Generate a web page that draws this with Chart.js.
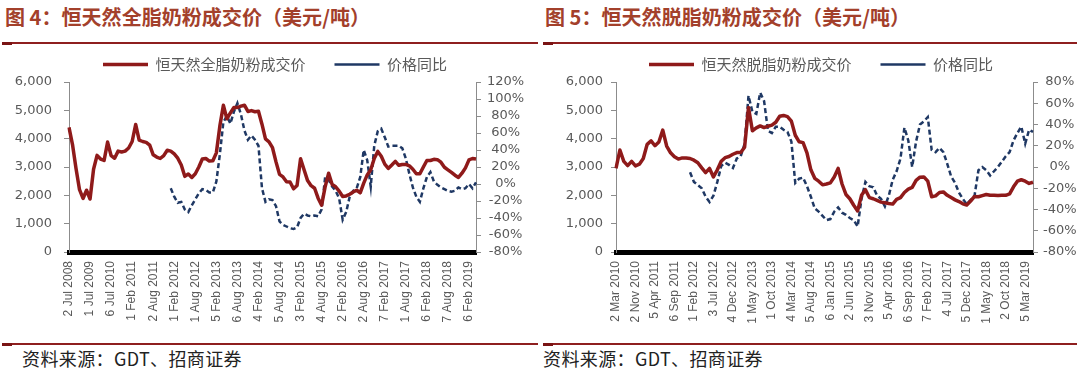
<!DOCTYPE html>
<html>
<head>
<meta charset="utf-8">
<script src="https://cdn.jsdelivr.net/npm/chart.js@4.4.1/dist/chart.umd.min.js"></script>
<style>
  html, body { margin: 0; padding: 0; background: #fff; }
  body { width: 1080px; height: 369px; position: relative; overflow: hidden; }
  .title { position: absolute; top: 4px; font-family: "Noto Sans CJK SC", sans-serif; font-weight: bold; font-size: 19px; color: #a3402b; white-space: nowrap; line-height: 26px; }
  .rule { position: absolute; height: 2px; background: #8e1f1f; }
  .rule-start { position: absolute; height: 3px; width: 10px; background: #7a1414; }
  .source { position: absolute; top: 347px; font-family: "Noto Sans CJK SC", sans-serif; font-size: 16px; color: #222; white-space: nowrap; line-height: 22px; }
  .wrap { position: absolute; top: 28px; width: 540px; height: 310px; }
</style>
</head>
<body>
<div class="title" id="t1" style="left:5px;">图 4：恒天然全脂奶粉成交价（美元/吨）</div>
<div class="title" id="t2" style="left:545px;">图 5：恒天然脱脂奶粉成交价（美元/吨）</div>
<div class="rule" style="left:2px; width:536px; top:42px;"></div>
<div class="rule-start" style="left:2px; top:42px;"></div>
<div class="rule" style="left:543px; width:534px; top:42px;"></div>
<div class="rule-start" style="left:543px; top:42px;"></div>
<div class="rule" style="left:2px; width:536px; top:343px;"></div>
<div class="rule-start" style="left:2px; top:343px;"></div>
<div class="rule" style="left:543px; width:534px; top:343px;"></div>
<div class="rule-start" style="left:543px; top:343px;"></div>
<div class="source" id="s1" style="left:22px;">资料来源：GDT、招商证券</div>
<div class="source" id="s2" style="left:543px;">资料来源：GDT、招商证券</div>
<div class="wrap" style="left:0px;"><canvas id="c1" width="540" height="310"></canvas></div>
<div class="wrap" style="left:540px;"><canvas id="c2" width="540" height="310"></canvas></div>
<script>
// ---- Figure 4: whole milk powder ----
const wholeTickLabels = ['2 Jul 2008','1 Jul 2009','6 Jul 2010','1 Feb 2011','2 Aug 2011','1 Feb 2012','1 Aug 2012','5 Feb 2013','6 Aug 2013','4 Feb 2014','5 Aug 2014','3 Feb 2015','4 Aug 2015','2 Feb 2016','2 Aug 2016','7 Feb 2017','1 Aug 2017','6 Feb 2018','7 Aug 2018','6 Feb 2019'];
const wholeSeriesName = '恒天然全脂奶粉成交价';
const wholePrice = [
 4400,3790,2950,2200,1890,2180,1870,2920,3410,3280,
 3230,3880,3400,3310,3560,3530,3560,3670,3900,4500,
 3950,3900,3870,3770,3430,3350,3300,3400,3590,3560,
 3460,3310,3070,2670,2750,2630,2760,3000,3280,3300,
 3210,3220,3500,4450,5180,4700,4910,5100,5100,5150,
 5180,4960,4990,4950,4970,4510,3990,3890,3680,3180,
 2740,2650,2480,2470,2230,2350,3290,2900,2520,2340,
 2250,1900,1650,2300,2780,2380,2300,2150,1960,1980,
 2040,2120,2180,2090,2430,2720,2900,3300,3550,3380,
 3100,2950,3070,3200,3060,3090,3090,3040,2920,2760,
 2760,3000,3230,3230,3270,3260,3170,2990,2900,2810,
 2710,2630,2780,2970,3250,3300,3280];
const wholeYoY = [
 null,null,null,null,null,null,null,null,null,null,
 null,null,null,null,null,null,null,null,null,null,
 null,null,null,null,null,null,null,null,null,-5,
 -15,-22,-21,-30,-33,-25,-18,-11,-6,-7,
 -10,-10,3,35,73,80,71,85,95,82,
 63,52,57,52,45,-5,-21,-18,-19,-26,
 -44,-48,-50,-52,-53,-51,-40,-35,-37,-38,
 -37,-38,-30,8,5,-3,-8,-17,-42,-33,
 -15,-8,-5,8,40,28,-3,45,62,65,
 55,44,45,45,45,42,30,12,-4,-15,
 -21,-5,8,14,3,-1,-4,-6,-8,-9,
 -8,-4,-6,-5,0,-5,2];

// ---- Figure 5: skim milk powder ----
const skimTickLabels = ['2 Mar 2010','2 Nov 2010','5 Apr 2011','6 Sep 2011','1 Feb 2012','3 Jul 2012','4 Dec 2012','1 May 2013','1 Oct 2013','4 Mar 2014','5 Aug 2014','6 Jan 2015','2 Jun 2015','3 Nov 2015','5 Apr 2016','6 Sep 2016','7 Feb 2017','4 Jul 2017','5 Dec 2017','1 May 2018','2 Oct 2018','5 Mar 2019'];
const skimSeriesName = '恒天然脱脂奶粉成交价';
const skimPrice = [
 2950,3600,3200,3050,3200,3040,3100,3300,3800,3920,
 3750,3880,4300,3740,3500,3360,3280,3320,3320,3300,
 3240,3150,2970,2800,2950,2650,2900,3200,3330,3370,
 3450,3510,3510,3700,5100,4280,4380,4450,4390,4440,
 4480,4580,4790,4820,4780,4620,4120,3890,3860,3500,
 2900,2600,2500,2370,2400,2440,2650,2950,2400,2030,
 1880,1650,1450,2000,2200,1920,1880,1820,1760,1740,
 1710,1690,1860,1920,2100,2220,2280,2530,2640,2650,
 2500,1950,1980,2100,2120,2000,1920,1840,1780,1700,
 1660,1800,1960,1950,1990,2030,2000,2000,1990,2000,
 2000,2050,2300,2500,2550,2500,2420,2460];
const skimYoY = [
 null,null,null,null,null,null,null,null,null,null,
 null,null,null,null,null,null,null,null,null,-5,
 -14,-17,-20,-28,-33,-27,-14,1,4,2,
 -1,8,10,22,67,52,50,70,62,34,
 32,38,38,35,33,24,-15,-11,-10,-18,
 -28,-39,-42,-46,-50,-49,-42,-38,-43,-45,
 -48,-50,-56,-30,-14,-18,-19,-27,-30,-37,
 -27,-12,-4,8,37,25,0,24,40,43,
 47,16,14,18,14,3,-9,-15,-24,-30,
 -35,-31,-27,-3,0,-3,-8,-4,0,5,
 10,14,25,32,38,22,35,33];
const yoyName = '价格同比';

const RED = '#8f1a1a';
const NAVY = '#1f3864';
const GREY = '#595959';
const AXIS = '#8c8c8c';

// fit header/footer text to the widths they occupy in the reference
function fitText(id, target) {
  const el = document.getElementById(id);
  const w = el.getBoundingClientRect().width;
  const fs = parseFloat(getComputedStyle(el).fontSize);
  let nfs = Math.max(fs - 1, Math.min(fs + 2, fs * target / w));
  el.style.fontSize = nfs + 'px';
  const w2 = el.getBoundingClientRect().width;
  const n = el.textContent.length;
  el.style.letterSpacing = ((target - w2) / n) + 'px';
}
fitText('t1', 365); fitText('t2', 365);
fitText('s1', 220); fitText('s2', 220);

function buildCategories(tickLabels, perTick, count) {
  const cats = [];
  for (let i = 0; i < count; i++) {
    cats.push(i % perTick === 0 && tickLabels[i / perTick] !== undefined ? tickLabels[i / perTick] : '');
  }
  return cats;
}

function makeChart(id, cfg) {
  const cats = buildCategories(cfg.ticks, cfg.perTick, cfg.price.length);
  return new Chart(document.getElementById(id), {
    type: 'line',
    data: {
      labels: cats,
      datasets: [
        { label: cfg.name, data: cfg.price, yAxisID: 'y', borderColor: RED, backgroundColor: RED,
          borderWidth: 3.5, pointRadius: 0, pointStyle: 'line', tension: 0, borderJoinStyle: 'round' },
        { label: yoyName, data: cfg.yoy, yAxisID: 'y1', borderColor: NAVY, backgroundColor: NAVY,
          borderWidth: 2.5, borderDash: [5, 3], pointRadius: 0, pointStyle: 'line', tension: 0 }
      ]
    },
    options: {
      responsive: false,
      animation: false,
      layout: { padding: { left: cfg.padLeft, right: 0, top: 0, bottom: 0 } },
      plugins: {
        legend: {
          display: true,
          position: 'top',
          labels: {
            usePointStyle: true,
            pointStyleWidth: 45,
            padding: 29,
            color: GREY,
            font: { family: '"Noto Sans CJK SC", sans-serif', size: 15 }
          }
        },
        tooltip: { enabled: false }
      },
      scales: {
        x: {
          type: 'category',
          grid: { display: false, drawTicks: false },
          border: { display: true, color: '#000', width: 5 },
          ticks: {
            autoSkip: false, maxRotation: 90, minRotation: 90, padding: 9,
            color: GREY, font: { family: '"Liberation Sans", Arial, sans-serif', size: 12 }
          },
          afterFit: s => { s.height = 86; }
        },
        y: {
          position: 'left', min: 0, max: 6000,
          grid: { drawOnChartArea: false, drawTicks: true, tickLength: 5, color: AXIS },
          border: { display: true, color: AXIS, width: 1 },
          ticks: {
            autoSkip: false, stepSize: 1000, padding: cfg.yPad, color: GREY,
            font: { family: '"DejaVu Sans", sans-serif', size: 13 },
            callback: v => v.toLocaleString('en-US')
          },
          afterFit: s => { s.width = cfg.yWidth; }
        },
        y1: {
          position: 'right', min: cfg.yoyMin, max: cfg.yoyMax,
          grid: { drawOnChartArea: false, drawTicks: true, tickLength: 5, color: AXIS },
          border: { display: true, color: AXIS, width: 1 },
          ticks: {
            autoSkip: false, stepSize: 20, padding: cfg.y1Pad, crossAlign: 'center', color: GREY,
            font: { family: '"DejaVu Sans", sans-serif', size: 13 },
            callback: v => v + '%'
          },
          afterFit: s => { s.width = cfg.y1Width; }
        }
      }
    }
  });
}

makeChart('c1', { ticks: wholeTickLabels, perTick: 6, price: wholePrice, yoy: wholeYoY, name: wholeSeriesName,
  padLeft: 10, yWidth: 59, y1Width: 64, yPad: 12, y1Pad: 6, yoyMin: -80, yoyMax: 120 });
makeChart('c2', { ticks: skimTickLabels, perTick: 5, price: skimPrice, yoy: skimYoY, name: skimSeriesName,
  padLeft: 22, yWidth: 54, y1Width: 47, yPad: 8, y1Pad: 5, yoyMin: -80, yoyMax: 80 });
</script>
</body>
</html>
